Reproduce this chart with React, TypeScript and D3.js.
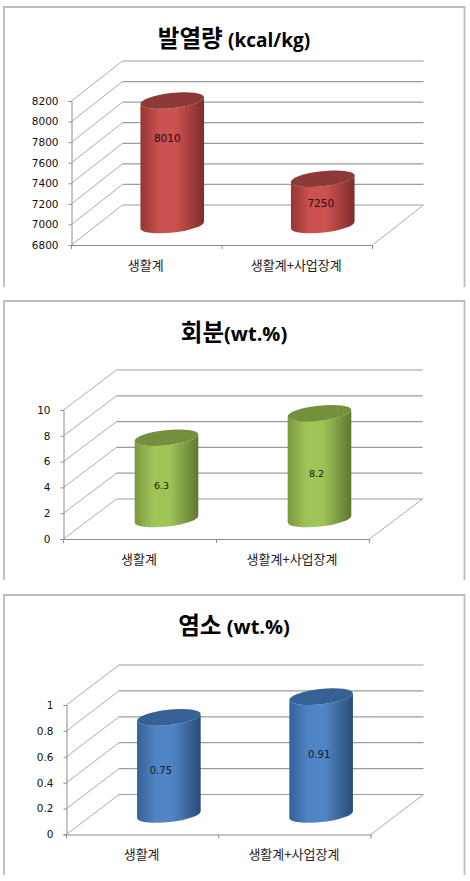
import * as d3 from "d3";
import { useEffect, useRef } from "react";

const categories = ["생활계", "생활계+사업장계"];

const heatValues = [8010, 7250];
const heatTicks = [6800, 7000, 7200, 7400, 7600, 7800, 8000, 8200];

const ashValues = [6.3, 8.2];
const ashTicks = [0, 2, 4, 6, 8, 10];

const chlorineValues = [0.75, 0.91];
const chlorineTicks = [0, 0.2, 0.4, 0.6, 0.8, 1];

const FONT = "'Noto Sans CJK KR', sans-serif";
const NUM_FONT = "'DejaVu Sans', sans-serif";
const GRID = "#9c9c9c";
const WALL = "#ababab";
const AXIS = "#8c8c8c";

interface Palette {
  id: string;
  edgeL: string;
  mid: string;
  edgeR: string;
  top: string;
  text: string;
}

const red: Palette = { id: "red", edgeL: "#953634", mid: "#cb5250", edgeR: "#7e2d2b", top: "#8c3937", text: "#2a0c0c" };
const green: Palette = { id: "green", edgeL: "#7b973c", mid: "#a1c459", edgeR: "#5f7730", top: "#74903c", text: "#142006" };
const blue: Palette = { id: "blue", edgeL: "#346097", mid: "#5085c5", edgeR: "#2a4d78", top: "#376095", text: "#0a1a33" };

interface PanelProps {
  title: string;
  latin: string;
  values: number[];
  ticks: number[];
  palette: Palette;
  // frame
  top: number;
  bottom: number;
  // plot box (front face)
  x0: number;
  x1: number;
  y0: number;
  y1: number;
  depthX: number;
  titleY: number;
  labelY: number;
  valueSize: number;
  // value labels don't sit in the middle of the bars in the original
  nudge: number[][];
}

function Panel(p: PanelProps) {
  const leftRef = useRef<SVGGElement>(null);
  const bottomRef = useRef<SVGGElement>(null);

  const depthY = 40;
  const scaleY = d3
    .scaleLinear()
    .domain([p.ticks[0], p.ticks[p.ticks.length - 1]])
    .range([p.y0, p.y1]);
  const scaleX = d3.scaleBand().domain(categories).range([p.x0, p.x1]);

  useEffect(() => {
    if (leftRef.current) {
      const g = d3.select(leftRef.current);
      g.call(d3.axisLeft(scaleY).tickValues(p.ticks).tickSizeOuter(0).tickSize(3).tickPadding(10).tickFormat((d) => String(d)));
      g.selectAll("path,line").attr("stroke", AXIS);
      g.selectAll("text").attr("font-size", 10.5).attr("font-family", NUM_FONT).attr("fill", "#111");
    }
    if (bottomRef.current) {
      const g = d3.select(bottomRef.current);
      g.call(d3.axisBottom(scaleX).tickValues([]).tickSizeOuter(0));
      g.selectAll("path,line").attr("stroke", AXIS);
      const edges = [p.x0, scaleX(categories[1]) || 0, p.x1];
      g.selectAll("line.sep")
        .data(edges)
        .join("line")
        .attr("class", "sep")
        .attr("x1", (d) => d)
        .attr("x2", (d) => d)
        .attr("y1", 0)
        .attr("y2", 4)
        .attr("stroke", AXIS);
    }
  });

  const rx = 32;
  const ry = 7.6;
  const tilt = 6.3;
  const rad = (tilt * Math.PI) / 180;
  const ex = rx * Math.cos(rad);
  const ey = rx * Math.sin(rad);
  const base = p.ticks[0];

  return (
    <g>
      <path
        d={`M4,${p.bottom} V${p.top} H464.5 V${p.bottom}`}
        fill="none"
        stroke="#bcbcbc"
        strokeWidth={1.8}
      />
      <text x={234} y={p.titleY} textAnchor="middle" fontFamily={FONT} fontWeight={700} fontSize={23.5} fill="#000">
        {p.title}
        <tspan fontFamily="'Open Sans', sans-serif" fontSize={p.latin.startsWith("(k") ? 19 : 20}>{p.latin}</tspan>
      </text>

      {p.ticks.map((t) => (
        <g key={t} fill="none">
          <line x1={p.x0} y1={scaleY(t)} x2={p.x0 + p.depthX} y2={scaleY(t) - depthY} stroke={WALL} />
          <line x1={p.x0 + p.depthX} y1={scaleY(t) - depthY} x2={p.x1 + p.depthX} y2={scaleY(t) - depthY} stroke={GRID} strokeWidth={1.2} />
        </g>
      ))}
      <line x1={p.x1} y1={p.y0} x2={p.x1 + p.depthX} y2={p.y0 - depthY} stroke={WALL} />

      <g ref={leftRef} transform={`translate(${p.x0},0)`} />
      <g ref={bottomRef} transform={`translate(0,${p.y0})`} />

      <defs>
        <linearGradient id={`cyl-${p.palette.id}`} x1="0" x2="1" y1="0" y2="0">
          <stop offset="0" stopColor={p.palette.edgeL} />
          <stop offset="0.3" stopColor={p.palette.mid} />
          <stop offset="0.55" stopColor={p.palette.mid} />
          <stop offset="1" stopColor={p.palette.edgeR} />
        </linearGradient>
      </defs>

      {p.values.map((v, i) => {
        const cx = (scaleX(categories[i]) || 0) + scaleX.bandwidth() / 2 + p.depthX / 2;
        const yTop = scaleY(v) - depthY / 2;
        const yBase = scaleY(base) - depthY / 2;
        const side = `M${cx - ex},${yTop + ey} L${cx - ex},${yBase + ey}
          A${rx},${ry} ${-tilt} 0 0 ${cx + ex},${yBase - ey}
          L${cx + ex},${yTop - ey} A${rx},${ry} ${-tilt} 0 1 ${cx - ex},${yTop + ey} Z`;
        return (
          <g key={categories[i]}>
            <path d={side} fill={`url(#cyl-${p.palette.id})`} />
            <ellipse
              cx={cx}
              cy={yTop}
              rx={rx}
              ry={ry}
              fill={p.palette.top}
              transform={`rotate(${-tilt} ${cx} ${yTop})`}
            />
            <text
              x={cx + p.nudge[i][0]}
              y={(yTop + yBase) / 2 + 4 + p.nudge[i][1]}
              textAnchor="middle"
              fontFamily={NUM_FONT}
              fontSize={p.valueSize}
              fill={p.palette.text}
            >
              {v}
            </text>
          </g>
        );
      })}

      {categories.map((c) => (
        <text
          key={c}
          x={(scaleX(c) || 0) + scaleX.bandwidth() / 2 - 1}
          y={p.labelY}
          textAnchor="middle"
          fontFamily={FONT}
          fontSize={13}
          fill="#222"
        >
          {c}
        </text>
      ))}
    </g>
  );
}

export default function App() {
  return (
    <svg
      width={470}
      height={881}
      style={{ position: "absolute", left: 0, top: 0, background: "#fff" }}
    >
      <Panel
        title="발열량 "
        latin="(kcal/kg)"
        values={heatValues}
        ticks={heatTicks}
        palette={red}
        top={7}
        bottom={287}
        x0={71.5}
        x1={372.5}
        y0={245}
        y1={101}
        depthX={51}
        titleY={47}
        labelY={270}
        valueSize={10.5}
        nudge={[[-5, -25], [-2, 1]]}
      />
      <Panel
        title="회분"
        latin="(wt.%)"
        values={ashValues}
        ticks={ashTicks}
        palette={green}
        top={301}
        bottom={580}
        x0={63.5}
        x1={369.5}
        y0={539}
        y1={410}
        depthX={53}
        titleY={341}
        labelY={564}
        valueSize={9.5}
        nudge={[[-5, 7], [-3, 7]]}
      />
      <Panel
        title="염소 "
        latin="(wt.%)"
        values={chlorineValues}
        ticks={chlorineTicks}
        palette={blue}
        top={595}
        bottom={875}
        x0={66.5}
        x1={371}
        y0={834.5}
        y1={705}
        depthX={52.5}
        titleY={634}
        labelY={859}
        valueSize={10}
        nudge={[[-8, 4], [-2, -1.5]]}
      />
    </svg>
  );
}
